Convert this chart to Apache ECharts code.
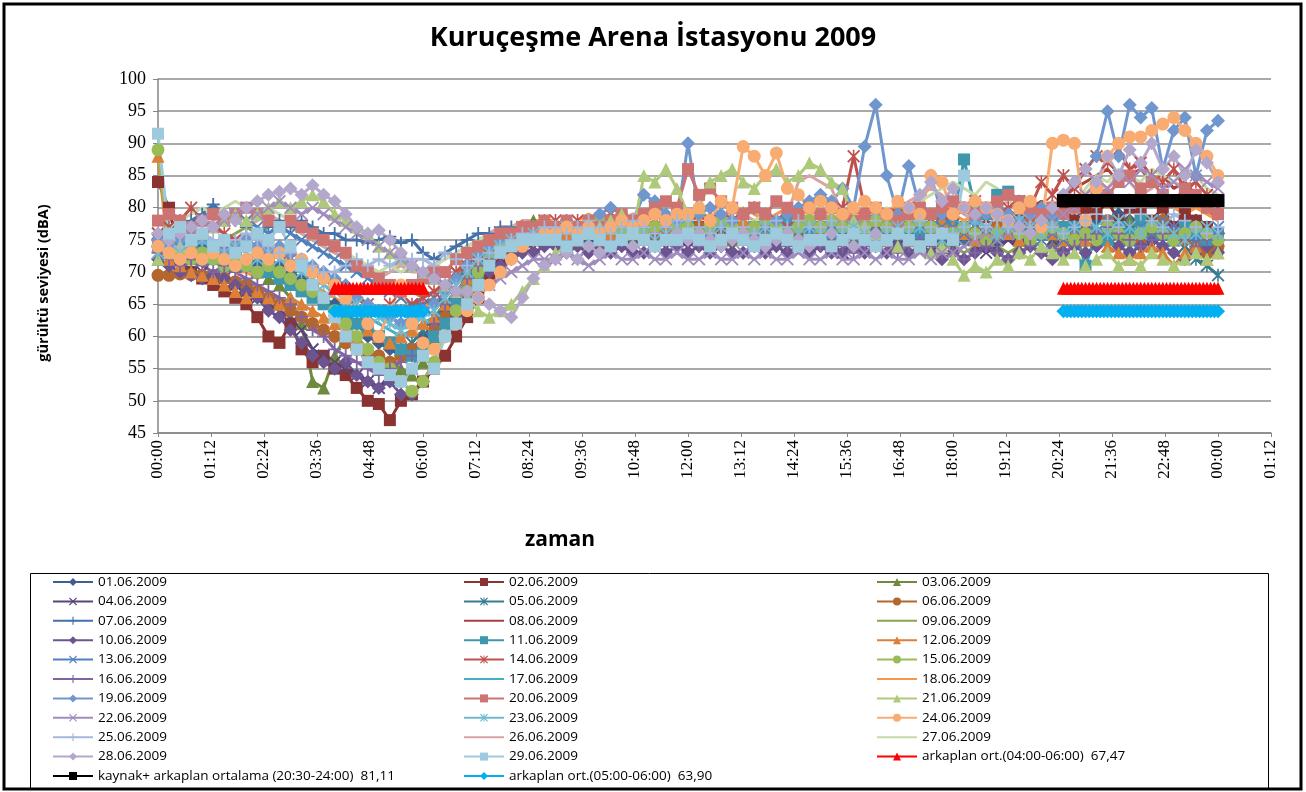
<!DOCTYPE html>
<html>
<head>
<meta charset="utf-8">
<title>Kuruçeşme Arena İstasyonu 2009</title>
<script src="https://cdn.jsdelivr.net/npm/echarts/dist/echarts.min.js"></script>
<style>
  html, body { margin: 0; padding: 0; background: #fff; }
  #chart { width: 1306px; height: 792px; }
</style>
</head>
<body>
<div id="chart"></div>
<script>
// ölçüm saatleri: 00:00 - 24:00, 15 dakikada bir (saat cinsinden)
var times = [];
for (var i = 0; i <= 96; i++) times.push(i / 4);

var dayNames = [
  "01.06.2009", "02.06.2009", "03.06.2009", "04.06.2009", "05.06.2009", "06.06.2009",
  "07.06.2009", "08.06.2009", "09.06.2009", "10.06.2009", "11.06.2009", "12.06.2009",
  "13.06.2009", "14.06.2009", "15.06.2009", "16.06.2009", "17.06.2009", "18.06.2009",
  "19.06.2009", "20.06.2009", "21.06.2009", "22.06.2009", "23.06.2009", "24.06.2009",
  "25.06.2009", "26.06.2009", "27.06.2009", "28.06.2009", "29.06.2009"
];

var dayColors = [
  "#3f5f8f", "#8b3331", "#6e8a3c", "#5a4577", "#367d91", "#b3672f",
  "#4471a8", "#a9403d", "#88a54e", "#6b5490", "#3d97ae", "#dc8038",
  "#4f81bd", "#c0504d", "#9bbb59", "#8064a2", "#4bacc6", "#f79646",
  "#7096ce", "#cd7371", "#afc97a", "#a08cbe", "#6fbad2", "#f9ac72",
  "#a3b8da", "#d9a3a2", "#c6d9a6", "#b3a8cb", "#9dcbdd"
];

// gürültü seviyeleri (dBA), her gün için 97 değer
var d01 = [74,73,72,73,74,73,72,73,72,71,72,71,
  70,69,68,66,65,63,62,60,59,58,57,58,
  60,62,64,66,68,70,72,73,74,75,75,76,
  76,75,76,75,76,76,75,76,77,76,75,76,
  76,75,76,77,76,75,76,76,75,76,77,76,
  76,75,76,77,76,75,76,75,76,77,76,75,
  76,75,76,75,77,76,75,76,77,76,77,78,
  76,78,77,79,78,76,77,78,76,77,78,76,
  76];
var d02 = [84,80,72,70,69,68,67,66,65,63,60,59,
  62,58,56,57,55,54,52,50,49.5,47,50,51,
  53,55,57,60,63,66,69,71,73,74,75,75,
  75,76,75,76,76,75,76,77,75,76,76,75,
  76,77,75,76,76,75,76,77,76,75,76,76,
  77,76,75,76,77,76,75,76,76,77,75,76,
  76,77,76,75,76,77,78,77,78,79,80,78,
  80,79,81,78,80,79,78,80,77,79,78,77,
  76];
var d03 = [72,73,74,73,72,73,72,71,72,70,69,68,
  66,62,53,52,57,60,59,58,57,56,55,54,
  56,60,63,66,68,70,72,74,76,77,78,77,
  77,76,77,78,76,77,76,75,76,77,76,75,
  76,75,77,76,75,76,77,76,75,76,76,77,
  76,77,76,75,76,77,76,76,75,77,76,75,
  75,76,77,76,75,76,75,77,76,75,76,77,
  76,75,77,76,78,75,76,77,75,76,75,76,
  75];
var d04 = [73,72,71,70,70,69,69,68,67,66,65,64,
  63,61,58,57,56,55,54,53,52,54,53,55,
  58,61,64,66,68,70,71,72,73,74,74,75,
  75,74,75,76,75,74,75,74,76,75,74,75,
  74,75,76,75,74,75,74,75,76,74,75,74,
  75,74,73,75,74,75,76,74,75,74,73,75,
  74,75,74,73,74,75,74,75,76,75,74,75,
  76,75,74,76,77,75,74,76,75,74,76,75,
  74];
var d05 = [75,74,73,74,73,72,73,72,71,72,71,70,
  69,68,67,66,64,63,62,61,60,59,58,59,
  61,63,65,67,69,71,73,74,75,75,76,76,
  76,77,76,75,76,77,76,75,76,76,77,76,
  77,76,75,76,77,76,76,75,76,77,76,75,
  76,77,76,75,76,76,77,76,75,76,77,76,
  76,75,77,76,77,78,77,76,78,77,76,77,
  75,76,77,76,74,75,77,76,75,74,72,71,
  69.5];
var d06 = [69.5,69.5,69.7,69.6,69.5,69.4,69,68.5,68,67,66,65,
  64,63,62,61,60,59,58,57,57,56,57,58,
  59,61,63,65,68,70,72,73,74,75,76,76,
  76,75,76,77,76,75,76,76,75,76,77,76,
  76,77,76,75,76,77,76,75,76,76,75,77,
  76,75,76,77,76,75,76,77,76,75,76,76,
  77,76,75,76,77,76,77,78,77,76,77,76,
  77,76,78,77,76,75,77,78,76,75,74,73,
  74];
var d07 = [75,76,77,78,79,80.5,79,78,77,76,77,78,
  77,78,77,76,76,75,75,74.5,75,75.5,74.5,75,
  73,72,73,74,75,76,76,77,77,76,77,76,
  77,76,75,76,77,76,77,76,75,76,77,76,
  76,77,76,75,76,77,76,75,76,77,76,75,
  76,75,76,77,76,75,76,75,76,77,76,75,
  75,76,75,76,75,76,77,76,75,76,77,76,
  77,76,75,76,77,78,76,75,77,76,75,76,
  75];
var d08 = [76,75,74,75,74,73,74,73,72,73,72,71,
  72,71,70,69,68,67,66,65,64,63,62,63,
  64,65,66,68,70,72,74,75,76,76,77,77,
  77,76,77,78,77,76,77,78,77,76,77,78,
  78,77,76,77,78,77,76,77,78,77,76,77,
  77,78,77,76,77,78,77,76,77,78,77,78,
  77,76,77,78,77,78,79,80,81,80,82,83,
  84,85,86,84,85,86,84,85,83,84,82,80,
  78];
var d09 = [73,74,75,76,75,74,75,76,77,76,77,78,
  77,76,75,74,73,72,71,70,69,68,67,67,
  66,67,68,69,70,71,72,73,74,75,75,76,
  76,75,76,75,76,77,76,75,76,75,76,77,
  76,75,76,77,76,75,76,77,76,75,76,75,
  75,76,75,76,77,76,75,74,75,76,75,74,
  74,73,74,75,74,73,74,75,74,73,74,75,
  74,75,76,75,74,76,75,74,75,76,75,74,
  75];
var d10 = [72,71,70,69.5,69,69.5,69,68,67,66,64,63,
  61,59,57,56,55,56,54,53,52,53,51,51,
  53,56,60,63,66,68,70,71,72,73,73,74,
  74,73,74,73,74,73,74,73,73,74,73,74,
  73,74,73,74,73,73,74,73,74,73,74,73,
  74,73,73,74,73,74,73,74,73,74,73,72,
  73,72,73,74,73,72,73,74,73,72,73,74,
  73,74,75,74,73,74,75,74,73,72,73,74,
  73];
var d11 = [74,73,74,72,73,72,71,72,71,70,70,69,
  68,67,66,65,64,63,62,61,60,59,58,57,
  58,60,62,65,68,70,72,73,74,75,75,76,
  76,75,76,77,76,75,76,77,78,77,76,77,
  77,76,77,78,77,76,77,76,77,78,77,76,
  77,76,77,76,77,78,77,76,77,76,77,78,
  78,87.5,80,79,82,82.5,81,80,79,78,77,77,
  71,76,75,77,76,78,77,76,75,77,76,75,
  76];
var d12 = [88,72,71,70,69.5,69,68,67,66,67,66,65,
  66,65,64,63,62,61,60,61,60,59,60,61,
  62,63,65,67,69,71,73,74,75,76,76,77,
  77,76,77,76,75,76,77,76,77,78,77,76,
  77,76,77,76,77,78,77,76,77,76,77,78,
  77,78,79,80,79,78,79,80,79,78,77,78,
  77,76,75,76,77,76,75,76,77,76,75,76,
  75,76,74,73,72,73,74,73,71,73,74,72,
  73];
var d13 = [76,77,78,77,76,77,78,79,78,77,76,77,
  76,75,74,73,72,71,70,69,68,67,66,65,
  65,66,68,70,72,73,74,75,75,76,76,77,
  76,77,76,75,76,77,76,77,76,75,76,77,
  77,76,75,76,77,76,75,76,77,76,77,76,
  76,77,76,75,76,77,76,77,76,75,76,77,
  77,76,77,76,75,76,77,76,75,76,75,76,
  77,76,78,76,75,77,76,78,77,76,75,76,
  77];
var d14 = [76,77,78,80,78,77,76,75,74,73,74,73,
  72,71,70,69,68,67,66,65,64,65,64,65,
  66,67,68,70,71,73,74,75,76,77,77,78,
  78,77,78,77,78,79,78,77,78,79,78,77,
  78,79,78,77,78,79,80,79,78,77,78,79,
  78,79,80,88,80,79,78,79,80,79,78,79,
  79,80,81,80,79,80,81,80,84,82,85,83,
  86,88,87,89,86,87,85,84,86,83,84,82,
  80];
var d15 = [89,74,73,72,73,72,71,72,71,70,71,70,
  69,68,67,66,64,62,60,58,56,55,53,51.5,
  53,56,60,64,67,70,72,74,75,76,77,77,
  76,77,76,77,78,77,76,77,76,77,78,77,
  77,76,77,78,77,76,77,78,77,76,77,78,
  77,78,77,76,77,78,77,76,77,78,77,76,
  76,77,76,75,76,77,76,75,76,77,76,75,
  76,75,77,76,75,76,77,76,75,76,77,76,
  75];
var d16 = [73,72,71,72,71,70,71,70,69,68,67,66,
  65,63,61,60,58,57,56,55,54,55,56,57,
  59,62,65,67,69,71,72,73,74,74,75,75,
  75,74,75,76,75,74,75,74,75,76,75,74,
  75,74,75,74,75,76,75,74,75,74,75,74,
  74,75,74,73,74,75,74,73,74,75,74,73,
  73,72,73,74,73,72,73,74,73,74,73,74,
  75,76,77,76,75,74,75,76,77,75,74,75,
  76];
var d17 = [74,75,74,75,76,75,74,75,74,73,74,73,
  72,71,70,69,68,66,64,63,62,61,60,61,
  62,63,65,67,69,71,73,74,75,76,76,76,
  77,76,77,76,77,76,77,76,77,76,77,76,
  76,77,76,77,76,77,76,77,76,77,76,77,
  77,76,77,76,77,76,77,76,77,76,77,76,
  76,77,76,77,76,77,76,77,76,77,76,77,
  77,78,77,76,77,78,77,76,77,78,77,76,
  77];
var d18 = [75,74,73,74,73,72,71,70,70,69,70,69,
  68,69,68,67,66,65,66,65,64,65,64,63,
  64,66,68,70,72,74,75,76,77,77,78,78,
  78,77,78,79,78,77,78,79,78,77,78,79,
  79,78,79,78,79,80,79,78,79,80,79,78,
  79,80,79,78,79,80,79,80,79,78,79,80,
  79,78,79,80,79,78,79,80,79,80,81,80,
  81,82,80,81,82,80,81,82,80,79,80,79,
  78];
var d19 = [75,74,75,76,75,74,73,74,75,74,73,74,
  73,72,71,70,69,68,66,65,64,63,62,63,
  64,65,67,69,71,73,74,75,76,76,77,77,
  77,78,77,78,79,80,79,78,82,81,79,78,
  90,79,80,79,78,79,80,79,78,79,80,81,
  82,81,83,80,89.5,96,85,79,86.5,80,85,79,
  79,80,78,79,80,79,78,79,80,79,82,84,
  86,88,95,88,96,94,95.5,86,92,94,85,92,
  93.5];
var d20 = [78,79,78,77,78,79,78,79,80,79,78,77,
  78,77,76,75,74,73,71,70,69,68,67,68,
  69,70,70,72,73,74,75,76,76,77,77,78,
  77,78,77,78,77,78,79,78,79,80,81,80,
  86,82,83,81,80,79,80,79,81,80,79,80,
  79,80,79,78,79,80,79,78,79,80,79,80,
  81,80,79,80,81,82,81,80,79,80,79,80,
  81,83,82,84,85,83,84,82,81,83,82,80,
  79];
var d21 = [72,73,74,75,76,77,78,79,78,79,80,81,
  80,81,82,81,79,78,77,76,74,73,72,71,
  70,69,68,67,66,64,63,64,65,67,69,71,
  73,74,75,76,77,78,79,76,85,84,86,83,
  79,80,84,85,86,84,83,85,86,84,85,87,
  86,84,83,78,77,76,75,74,75,74,73,74,
  72,69.5,71,70,72,71,73,72,74,73,72,73,
  71,72,73,71,72,71,73,72,71,72,73,72,
  73];
var d22 = [74,75,76,77,78,77,78,79,80,79,80,81,
  80,79,80,79,78,77,76,75,74,73,72,71,
  70,69,68,67,66,67,68,69,70,71,72,72,
  72,73,72,71,72,73,72,72,73,72,72,73,
  72,72,73,72,72,73,72,73,72,72,73,72,
  72,73,72,72,73,72,73,72,72,73,72,73,
  73,74,75,76,75,76,77,78,77,78,79,80,
  82,84,83,85,84,86,85,83,84,86,85,84,
  83];
var d23 = [73,74,73,74,75,74,73,74,73,72,73,72,
  71,70,69,68,67,66,65,64,63,62,61,62,
  63,64,66,68,70,72,73,74,75,75,76,76,
  76,77,76,75,76,77,76,77,76,75,76,77,
  76,75,76,77,76,75,76,77,76,75,76,77,
  76,77,76,77,76,75,76,77,76,77,76,75,
  76,77,78,77,76,77,78,77,76,77,76,77,
  78,77,76,78,77,76,78,77,76,75,76,77,
  76];
var d24 = [74,73,72,73,72,73,72,71,72,73,72,73,
  71,72,70,69,68,66,64,62,60,64,68,62,
  59,58,60,62,64,66,68,70,72,74,75,76,
  76,77,76,77,76,77,78,77,78,79,78,79,
  79,80,78,81,80,89.5,88,85,88.5,83,82,80,
  81,80,79,80,81,80,79,81,80,79,85,84,
  79,80,81,80,79,78,80,81,77,90,90.5,90,
  78,83,88,90,91,91,92,93,94,92,90,88,
  85];
var d25 = [76,75,74,75,76,75,74,75,76,75,74,73,
  73,72,71,70,70,71,72,71,72,71,72,72,
  72,71,73,72,71,72,73,74,75,76,76,77,
  77,76,77,78,77,76,77,78,77,76,77,78,
  78,77,76,77,78,77,76,77,78,77,78,77,
  77,78,77,76,77,78,77,76,77,78,77,76,
  76,77,76,77,78,77,76,77,78,77,76,77,
  78,79,78,77,80,79,78,77,79,78,77,76,
  77];
var d26 = [75,76,77,78,77,78,79,78,77,78,79,78,
  77,76,75,74,73,72,71,70,69,70,71,70,
  70,71,72,73,74,75,76,77,77,78,78,77,
  78,77,78,77,78,77,78,79,78,77,78,79,
  78,79,78,77,78,79,78,77,78,79,84,85,
  84,83,79,78,79,80,79,80,81,82,83,82,
  80,79,78,79,80,81,80,79,80,81,80,81,
  82,84,83,85,84,82,83,85,84,83,82,81,
  80];
var d27 = [76,77,78,79,80,79,80,81,80,79,80,79,
  78,77,76,75,74,73,72,71,70,71,70,71,
  70,71,72,73,74,75,76,76,77,77,78,77,
  78,77,78,77,76,77,78,77,78,79,78,77,
  78,77,78,79,78,77,78,79,78,77,78,79,
  78,79,78,77,78,79,80,79,80,81,82,83,
  84,83,82,84,83,81,80,79,80,81,80,79,
  83,85,84,86,85,84,86,85,84,86,85,83,
  82];
var d28 = [76,75,76,77,78,77,79,78,80,81,82,82.5,
  83,82,83.5,82,81,79,77,76,76.5,75,73,71,
  70,69,68,67,67,66,65,64,63,66,69,71,
  72,73,72,74,73,74,75,74,75,74,75,76,
  75,76,75,74,75,76,75,74,75,76,75,74,
  75,76,75,74,75,76,75,76,80,82,84,81,
  83,80,79,80,79,78,77,76,78,80,82,84,
  86,84,88,85,89,87,90,86,88,85,89,87,
  84];
var d29 = [91.5,76,77,75,76,74,75,73,74,76,75,77,
  74,71,68,66,63,60,58,56,55,54,53,55,
  57,55,60,62,65,68,71,73,74,75,75,75,
  75,74,75,76,75,74,75,76,75,74,75,75,
  76,75,74,75,76,75,74,75,76,75,74,75,
  75,74,75,76,75,74,75,76,75,74,75,76,
  75,85,null,null,null,null,null,null,null,null,null,null,
  null,null,null,null,null,null,null,null,null,null,null,null,
  null];

var dayData = [d01,d02,d03,d04,d05,d06,d07,d08,d09,d10,d11,d12,d13,d14,d15,
  d16,d17,d18,d19,d20,d21,d22,d23,d24,d25,d26,d27,d28,d29];

// ortalama çizgileri: değer ve saat aralıkları
var bgName1 = "arkaplan ort.(04:00-06:00)  67,47";
var bgValue1 = 67.47;
var bgSpans1 = [[4, 6], [20.5, 24]];
var srcName = "kaynak+ arkaplan ortalama (20:30-24:00)  81,11";
var srcValue = 81.11;
var srcSpans = [[20.5, 24]];
var bgName2 = "arkaplan ort.(05:00-06:00)  63,90";
var bgValue2 = 63.9;
var bgSpans2 = [[4, 6], [20.5, 24]];

// excel işaretleri
var symX = "path://M1,0L5,4L9,0L10,1L6,5L10,9L9,10L5,6L1,10L0,9L4,5L0,1Z";
var symPlus = "path://M4.3,0H5.7V4.3H10V5.7H5.7V10H4.3V5.7H0V4.3H4.3Z";
var symStar = "path://M1,0L5,4L9,0L10,1L6,5L10,9L9,10L5,6L1,10L0,9L4,5L0,1Z M4.4,0H5.6V10H4.4Z";
var markerCycle = ["diamond", "rect", "triangle", symX, symStar, "circle", symPlus, "none", "none"];

function avgLine(spans, value) {
  var out = [];
  spans.forEach(function (s, k) {
    if (k > 0) out.push([(spans[k - 1][1] + s[0]) / 2, "-"]);
    for (var m = s[0] * 60; m <= s[1] * 60; m += 5) out.push([m / 60, value]);
  });
  return out;
}

var series = [];
dayData.forEach(function (arr, idx) {
  var sym = markerCycle[idx % 9];
  series.push({
    name: dayNames[idx],
    type: "line",
    data: arr.map(function (v, i) { return [times[i], v === null ? "-" : v]; }),
    symbol: sym,
    symbolSize: sym === "diamond" ? 14 : (sym === "rect" ? 12 : 13),
    showSymbol: sym !== "none",
    lineStyle: { width: 3, color: dayColors[idx] },
    itemStyle: { color: dayColors[idx] }
  });
});
series.push({
  name: bgName1, type: "line", data: avgLine(bgSpans1, bgValue1),
  symbol: "triangle", symbolSize: 13,
  lineStyle: { width: 3, color: "#ff0000" }, itemStyle: { color: "#ff0000" }
});
series.push({
  name: srcName, type: "line", data: avgLine(srcSpans, srcValue),
  symbol: "rect", symbolSize: 13,
  lineStyle: { width: 3, color: "#000000" }, itemStyle: { color: "#000000" }
});
series.push({
  name: bgName2, type: "line", data: avgLine(bgSpans2, bgValue2),
  symbol: "diamond", symbolSize: 14,
  lineStyle: { width: 3, color: "#00b0f0" }, itemStyle: { color: "#00b0f0" }
});

// lejant: üç sütun, satır satır
var col1 = [], col2 = [], col3 = [];
dayNames.forEach(function (n, i) {
  var item = { name: n };
  if (markerCycle[i % 9] === "none") item.itemStyle = { color: "rgba(0,0,0,0)", borderWidth: 0 };
  [col1, col2, col3][i % 3].push(item);
});
col1.push({ name: srcName });
col2.push({ name: bgName2 });
col3.push({ name: bgName1 });

function legendCol(left, names) {
  return {
    orient: "vertical",
    left: left,
    top: 575,
    height: 240,
    padding: 0,
    itemWidth: 40,
    itemHeight: 10,
    itemGap: 5.4,
    selectedMode: false,
    data: names,
    textStyle: { fontFamily: "Open Sans", fontSize: 13.5, color: "#000", lineHeight: 14 }
  };
}

var chart = echarts.init(document.getElementById("chart"));
chart.setOption({
  animation: false,
  backgroundColor: "#fff",
  title: {
    text: "Kuruçeşme Arena İstasyonu 2009",
    left: "center",
    top: 20,
    textStyle: { fontFamily: "Open Sans", fontWeight: "bold", fontSize: 27, color: "#000" }
  },
  grid: { left: 158, right: 35, top: 79, bottom: 359 },
  xAxis: {
    type: "value",
    min: 0,
    max: 25.2,
    interval: 1.2,
    axisLine: { lineStyle: { color: "#868686", width: 1.5 } },
    axisTick: { show: true, length: 4, lineStyle: { color: "#868686" } },
    splitLine: { show: false },
    axisLabel: {
      rotate: 90,
      margin: 7,
      color: "#000",
      fontFamily: "Liberation Serif",
      fontSize: 17,
      formatter: function (v) {
        var m = Math.round(v * 60);
        var h = Math.floor(m / 60) % 24;
        var mm = m % 60;
        return (h < 10 ? "0" : "") + h + ":" + (mm < 10 ? "0" : "") + mm;
      }
    }
  },
  yAxis: {
    type: "value",
    min: 45,
    max: 100,
    interval: 5,
    axisLine: { show: true, lineStyle: { color: "#868686", width: 1.5 } },
    axisTick: { show: true, length: 5, lineStyle: { color: "#868686" } },
    splitLine: { lineStyle: { color: "#8c8c8c", width: 1.5 } },
    axisLabel: { margin: 12, color: "#000", fontFamily: "Liberation Serif", fontSize: 18 }
  },
  legend: [legendCol(52, col1), legendCol(463, col2), legendCol(876, col3)],
  graphic: [
    { type: "rect", shape: { x: 4, y: 4, width: 1297, height: 785 },
      style: { fill: "none", stroke: "#000", lineWidth: 3 }, z: 100 },
    { type: "rect", shape: { x: 30.5, y: 573.5, width: 1238, height: 215 },
      style: { fill: "none", stroke: "#000", lineWidth: 1 }, z: 100 },
    { type: "text", x: 44, y: 283, rotation: Math.PI / 2,
      style: { text: "gürültü seviyesi (dBA)", font: "bold 14.5px 'Open Sans'", fill: "#000",
        align: "center", verticalAlign: "middle" } },
    { type: "text", x: 560, y: 540,
      style: { text: "zaman", font: "bold 21px 'Open Sans'", fill: "#000",
        align: "center", verticalAlign: "middle" } }
  ],
  series: series
});
</script>
</body>
</html>
